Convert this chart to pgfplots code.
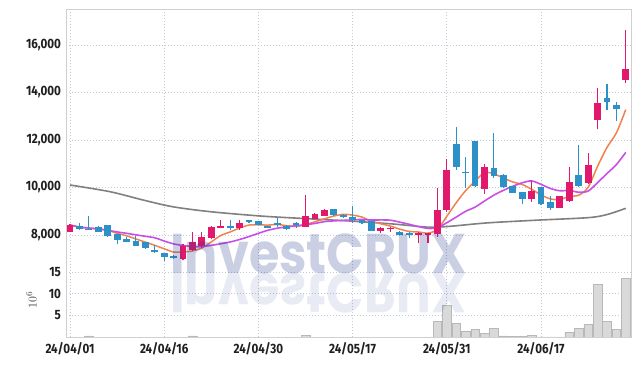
\documentclass[border=0pt]{standalone}
\usepackage{fontspec}
\setmainfont{Fira Sans}
\newfontfamily\tickfont{Fira Sans}[FakeStretch=0.86]
\newfontfamily\wmfont{Poppins}
\usepackage{pgfplots}
\usepackage{pgfplotstable}
\pgfplotsset{compat=1.18}
\definecolor{upc}{HTML}{E2186C}
\definecolor{dnc}{HTML}{2D91C8}
\definecolor{maf}{HTML}{F08250}
\definecolor{mat}{HTML}{C850E6}
\definecolor{mal}{HTML}{808080}
\definecolor{gridc}{HTML}{C4C6DA}
\definecolor{framec}{HTML}{D0D0D0}
\definecolor{wmc}{HTML}{2A3F8F}

\pgfplotstableread{
i o h l c
0 8140 8450 8120 8420
12 6990 7610 6935 7550
13 7370 8110 7330 7690
14 7540 8110 7465 7920
15 7860 8390 7830 8350
16 8300 8620 8280 8380
18 8280 8620 8225 8505
25 8350 9680 8320 8800
26 8690 8940 8670 8900
27 8810 9080 8790 9050
33 8170 8350 8100 8290
34 8250 8350 8140 8290
37 8010 8140 7650 8060
38 7990 8100 7650 8070
39 8030 9960 7930 9050
40 9050 11190 8980 10740
44 9950 10990 9730 10850
49 9530 10290 9390 9850
52 9150 9650 9120 9630
53 9450 10860 9400 10220
55 10200 11470 10150 10950
56 12830 14200 12450 13560
59 14530 16640 14390 14990
}\uptable

\pgfplotstableread{
i o h l c
1 8390 8490 8220 8250
2 8240 8800 8200 8210
3 8350 8380 8110 8140
4 8420 8430 7930 7970
5 8040 8060 7610 7790
6 7830 7900 7690 7720
7 7740 7970 7520 7550
8 7690 7700 7420 7465
9 7340 7580 7230 7300
10 7230 7240 6900 7060
11 7100 7160 6990 7040
17 8340 8620 8225 8300
19 8620 8650 8500 8550
20 8590 8600 8400 8420
21 8350 8380 8290 8310
22 8460 8730 8330 8430
23 8390 8400 8220 8250
24 8500 8550 8280 8400
28 9080 9090 8820 8830
29 8830 8900 8720 8770
30 8745 9220 8520 8630
31 8630 8640 8450 8490
32 8600 8610 8170 8180
35 8140 8150 7980 7990
36 8100 8110 7860 8000
41 11830 12530 10740 10880
42 10650 11300 9970 10600
43 11960 11970 10000 10060
45 10800 12280 10390 10480
46 10540 10550 9980 10000
47 10060 10070 9750 9780
48 9810 9820 9290 9530
50 10010 10020 9280 9290
51 9390 9650 9065 9150
54 10530 11780 10010 10080
57 13770 14350 13250 13610
58 13470 13590 12790 13300
}\dntable

\begin{document}
\begin{tikzpicture}
\path[use as bounding box] (0,0) rectangle (639pt,366pt);
\pgfplotsset{
  common/.style={
    scale only axis, width=565pt, anchor=south west,
    xmin=-0.4246, xmax=59.554,
    xtick={0,10,20,30,40,50},
    axis line style={draw=none},
    major tick length=0pt,
    xmajorgrids, ymajorgrids,
    grid style={gridc, line width=0.7pt, dash pattern=on 1pt off 2pt},
    tick label style={font=\tickfont\bfseries\fontsize{13.5}{13.5}\selectfont, text=black!88},
    yticklabel style={xshift=-1.5pt},
    scaled y ticks=false,
    /pgf/number format/assume math mode=true,
    /pgf/number format/1000 sep={,},
  }
}
\begin{axis}[common, at={(66pt,97.5pt)}, height=259.5pt,
  ymin=6589.5, ymax=17516,
  ytick={8000,10000,12000,14000,16000}, xticklabels={}]
  % moving averages
  \addplot[mal, line width=1.6pt, smooth] coordinates {
    (0,10105) (4.25,9823) (7.75,9474) (10.9,9190) (14.9,8981) (20.2,8800)
    (24.4,8703) (29.7,8590) (34.3,8463) (38,8330) (40.3,8365) (44.3,8510)
    (49.6,8625) (55,8730) (57,8860) (59,9124)};
  \addplot[maf, line width=1.5pt, smooth] coordinates {
    (0,8420) (1,8335) (2,8293) (3,8255) (4,8198) (5,8072) (6,7966) (7,7834)
    (8,7699) (9,7565) (10,7419) (11,7283) (12,7283) (13,7328) (14,7452)
    (15,7710) (16,7978) (17,8128) (18,8291) (19,8417) (20,8431) (21,8417)
    (22,8443) (23,8392) (24,8362) (25,8438) (26,8556) (27,8680) (28,8796)
    (29,8870) (30,8836) (31,8754) (32,8580) (33,8472) (34,8376) (35,8248)
    (36,8150) (37,8126) (38,8082) (39,8234) (40,8784) (41,9360) (42,9868)
    (43,10266) (44,10626) (45,10574) (46,10398) (47,10234) (48,10128)
    (49,9928) (50,9690) (51,9520) (52,9490) (53,9628) (54,9674) (55,10006)
    (56,10888) (57,11684) (58,12300) (59,13282)};
  \addplot[mat, line width=1.6pt, smooth] coordinates {
    (0,8420) (1,8335) (2,8293) (3,8255) (4,8198) (5,8130) (6,8071) (7,8006)
    (8,7946) (9,7882) (10,7746) (11,7625) (12,7559) (13,7514) (14,7509)
    (15,7565) (16,7631) (17,7706) (18,7810) (19,7935) (20,8071) (21,8198)
    (22,8286) (23,8342) (24,8390) (25,8435) (26,8487) (27,8562) (28,8594)
    (29,8616) (30,8637) (31,8655) (32,8630) (33,8634) (34,8623) (35,8542)
    (36,8452) (37,8353) (38,8277) (39,8305) (40,8516) (41,8755) (42,8997)
    (43,9174) (44,9430) (45,9679) (46,9879) (47,10051) (48,10197) (49,10277)
    (50,10132) (51,9959) (52,9862) (53,9878) (54,9801) (55,9848) (56,10204)
    (57,10587) (58,10964) (59,11478)};
  % wicks
  \addplot[draw=none, error bars/.cd, y dir=plus, y explicit, error mark=none,
    error bar style={draw=upc, line width=1.1pt}]
    table[x=i, y=l, y error expr=\thisrow{h}-\thisrow{l}] {\uptable};
  \addplot[draw=none, error bars/.cd, y dir=plus, y explicit, error mark=none,
    error bar style={draw=dnc, line width=1.1pt}]
    table[x=i, y=l, y error expr=\thisrow{h}-\thisrow{l}] {\dntable};
  % bodies
  \addplot[draw=none, error bars/.cd, y dir=plus, y explicit, error mark=none,
    error bar style={draw=upc, line width=6.8pt}]
    table[x=i, y expr={min(\thisrow{o},\thisrow{c})},
      y error expr={max(abs(\thisrow{c}-\thisrow{o}),60)}] {\uptable};
  \addplot[draw=none, error bars/.cd, y dir=plus, y explicit, error mark=none,
    error bar style={draw=dnc, line width=6.8pt}]
    table[x=i, y expr={min(\thisrow{o},\thisrow{c})},
      y error expr={max(abs(\thisrow{c}-\thisrow{o}),60)}] {\dntable};
\end{axis}

\begin{axis}[common, at={(66pt,28.7pt)}, height=68.8pt,
  ymin=0, ymax=15.78, ytick={5,10,15},
  xticklabels={24/04/01,24/04/16,24/04/30,24/05/17,24/05/31,24/06/17},
  xticklabel style={yshift=-2pt}]
  \addplot[ybar, bar width=8.6pt, fill=black!15, draw=black!28, line width=0.5pt]
  coordinates {
    (2,0.3) (13,0.3) (25,0.5) (39,3.7) (40,7.4) (41,3.2) (42,1.45) (43,1.8)
    (44,0.9) (45,2.05) (46,0.3) (47,0.2) (48,0.15) (49,0.5) (50,0.1) (51,0.1)
    (52,0.1) (53,1.2) (54,2.05) (55,3.05) (56,12.15) (57,3.7) (58,1.9) (59,13.5)};
\end{axis}

\draw[framec, line width=0.8pt] (66pt,28.7pt) rectangle (631pt,357pt);
\node[rotate=90, font=\fontsize{13}{13}\selectfont, text=black!75] at (31.5pt,66pt) {$10^{6}$};

\node[anchor=base, font=\wmfont\bfseries\fontsize{56}{56}\selectfont, text=wmc,
  text opacity=0.25, xscale=0.88] at (318.5pt,92pt) {InvestCRUX};
\node[anchor=base, font=\wmfont\bfseries\fontsize{56}{56}\selectfont, text=wmc,
  text opacity=0.1, xscale=0.88, yscale=-1] at (318.5pt,92pt) {InvestCRUX};
\end{tikzpicture}
\end{document}
